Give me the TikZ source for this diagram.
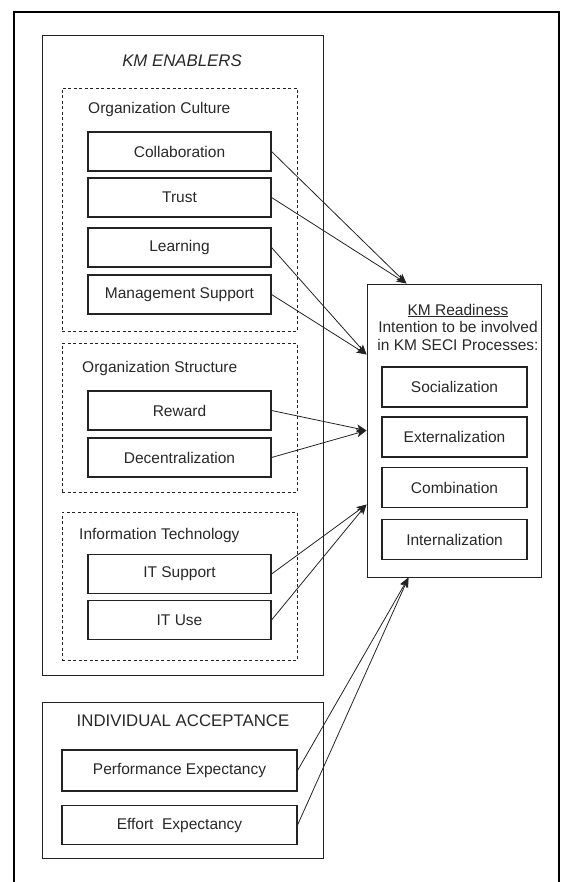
\documentclass[tikz,border=0pt]{standalone}
\usepackage{fontspec}
\setmainfont{Liberation Sans}
\usetikzlibrary{arrows.meta, positioning}
\definecolor{linecolor}{RGB}{35,35,35}
\definecolor{textcolor}{RGB}{40,40,40}
\tikzset{
  frame/.style={
    draw=black,
    line width=2pt
  },
  container/.style={
    rectangle,
    draw=linecolor,
    line width=1pt,
    inner sep=0pt
  },
  group/.style={
    rectangle,
    draw=linecolor,
    line width=0.9pt,
    dash pattern=on 3pt off 2.5pt,
    inner sep=0pt
  },
  item/.style={
    rectangle,
    draw=linecolor,
    line width=1.1pt,
    minimum width=183pt,
    minimum height=39pt,
    inner sep=0pt,
    text=textcolor,
    font=\fontsize{15.5}{18}\selectfont
  },
  header/.style={
    inner sep=0pt,
    text=textcolor,
    font=\fontsize{16.8}{20}\selectfont
  },
  grouplabel/.style={
    anchor=west,
    inner sep=0pt,
    text=textcolor,
    font=\fontsize{15.5}{18}\selectfont
  },
  arrow/.style={
    -{Stealth[length=10pt,width=8pt,inset=2.5pt]},
    linecolor,
    line width=0.8pt
  }
}

\begin{document}
\begin{tikzpicture}[x=1pt, y=-1pt]
\useasboundingbox (0,0) rectangle (562,882);

% Outer frame
\draw[frame] (14,900) -- (14,12) -- (559,12) -- (559,900);

% KM enablers
\node[container, minimum width=281pt, minimum height=639pt] (enablers) at (182.5,355.5) {};
\node[header, font=\fontsize{16.8}{20}\selectfont\itshape] (enablerstitle) at (182,61) {KM ENABLERS};

% Organization culture
\node[group, minimum width=235pt, minimum height=243pt] (culture) at (179.5,209.5) {};
\node[grouplabel] (culturelabel) at (88,109) {Organization Culture};
\node[item] (collab) at (179.5,151.5) {Collaboration};
\node[item] (trust) at (179.5,197.5) {Trust};
\node[item] (learn) at (179.5,247.5) {Learning};
\node[item] (mgmt) at (179.5,294.5) {Management Support};

% Organization structure
\node[group, minimum width=235pt, minimum height=149pt] (structure) at (179.5,417.5) {};
\node[grouplabel] (structurelabel) at (82,368) {Organization Structure};
\node[item] (reward) at (179.5,410.5) {Reward};
\node[item] (decentral) at (179.5,457.5) {Decentralization};

% Information technology
\node[group, minimum width=235pt, minimum height=148pt] (infotech) at (179.5,586) {};
\node[grouplabel] (infotechlabel) at (79,535) {Information Technology};
\node[item] (itsupport) at (179.5,574) {IT Support};
\node[item] (ituse) at (179.5,620) {IT Use};

% Individual acceptance
\node[container, minimum width=281pt, minimum height=156pt] (accept) at (182.5,780) {};
\node[header] (accepttitle) at (183,721) {INDIVIDUAL ACCEPTANCE};
\node[item, minimum width=235pt, minimum height=41pt] (perf) at (179.5,770.5) {Performance Expectancy};
\node[item, minimum width=235pt] (effort) at (179.5,825) {Effort\ \ Expectancy};

% KM readiness
\node[container, minimum width=174pt, minimum height=293pt] (ready) at (454,430.5) {};
\node[inner sep=0pt, align=center, text=textcolor, font=\fontsize{15.5}{17.5}\selectfont] (readytitle) at (458,327)
  {\underline{KM Readiness}\\Intention to be involved\\in KM SECI Processes:};
\node[item, minimum width=145pt, minimum height=40pt] (social) at (454.5,387) {Socialization};
\node[item, minimum width=145pt, minimum height=40pt] (extern) at (454.5,437) {Externalization};
\node[item, minimum width=145pt, minimum height=40pt] (combine) at (454.5,487.5) {Combination};
\node[item, minimum width=145pt, minimum height=40pt] (intern) at (454.5,539.5) {Internalization};

% Arrow ends on the readiness box
\coordinate (readytop) at ([xshift=40pt]ready.north west);
\coordinate (readyleftA) at ([yshift=-71pt]ready.north west);
\coordinate (readyleftB) at ([yshift=-147pt]ready.north west);
\coordinate (readyleftC) at ([yshift=-221pt]ready.north west);
\coordinate (readybottom) at ([xshift=42pt]ready.south west);

% Arrows
\draw[arrow] (collab.east) -- (readytop);
\draw[arrow] (trust.east) -- (readytop);
\draw[arrow] (learn.east) -- (readyleftA);
\draw[arrow] (mgmt.east) -- (readyleftA);
\draw[arrow] (reward.east) -- (readyleftB);
\draw[arrow] (decentral.east) -- (readyleftB);
\draw[arrow] (itsupport.east) -- (readyleftC);
\draw[arrow] (ituse.east) -- (readyleftC);
\draw[arrow] (perf.east) -- (readybottom);
\draw[arrow] (effort.east) -- (readybottom);

\end{tikzpicture}
\end{document}
